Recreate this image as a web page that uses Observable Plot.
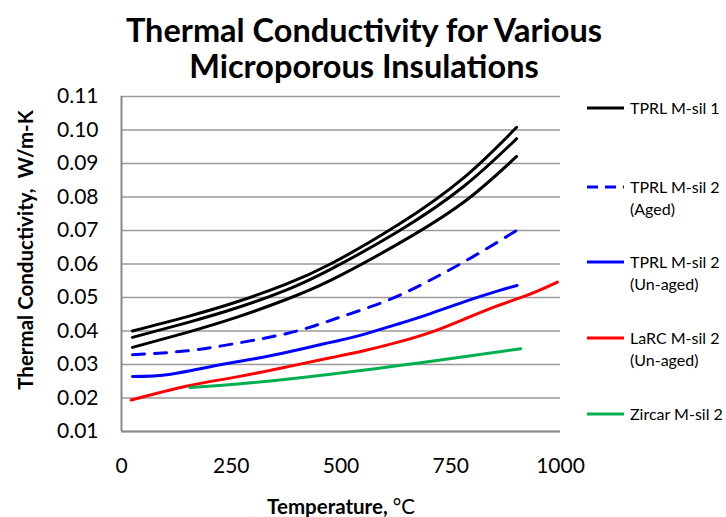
<!DOCTYPE html>
<html><head><meta charset="utf-8">
<script src="https://cdn.jsdelivr.net/npm/d3@7"></script>
<script src="https://cdn.jsdelivr.net/npm/@observablehq/plot@0.6"></script>
<style>
body{margin:0;background:#fff;font-family:Lato,"Open Sans",sans-serif;}
#wrap{position:relative;width:726px;height:517px;overflow:hidden;}
#chart{position:absolute;left:0;top:0;}
#title{position:absolute;left:0;top:12px;width:728px;text-align:center;font-weight:bold;font-size:32.5px;line-height:36px;color:#000;}
#ytitle{position:absolute;left:25px;top:250px;transform:translate(-50%,-50%) rotate(-90deg);white-space:nowrap;font-weight:bold;font-size:20.5px;color:#000;}
#xtitle{position:absolute;left:341px;top:506px;transform:translate(-50%,-50%);white-space:nowrap;font-weight:bold;font-size:20.5px;color:#000;}
#xtitle span{font-weight:normal;}
.lg{position:absolute;left:587px;font-size:16px;line-height:22px;color:#000;}
.lg svg{position:absolute;left:0;top:9px;}
.lg div{position:absolute;left:43px;top:0;white-space:nowrap;}
</style></head><body>
<div id="wrap">
<div id="chart"></div>
<div id="title">Thermal Conductivity for Various<br>Microporous Insulations</div>
<div id="ytitle">Thermal Conductivity,&nbsp; W/m-K</div>
<div id="xtitle">Temperature, <span>°C</span></div>
<div id="legend"></div>
</div>
<script>
// Temperatures (°C) and thermal conductivity (W/m-K)
const tprl1Temps = [25, 150, 265, 375, 476, 630, 780, 900];
const tprl1Upper = [0.0400, 0.0443, 0.0488, 0.0540, 0.0600, 0.0717, 0.0858, 0.1008];
const tprl1Middle = [0.0381, 0.0425, 0.0470, 0.0522, 0.0584, 0.0697, 0.0832, 0.0974];
const tprl1Lower = [0.0351, 0.0396, 0.0442, 0.0494, 0.0551, 0.0660, 0.0785, 0.0921];

const agedTemps = [25, 150, 265, 375, 450, 506, 607, 705, 801, 900];
const agedValues = [0.0329, 0.0341, 0.0364, 0.0392, 0.0420, 0.0445, 0.0492, 0.0553, 0.0622, 0.0700];

const unagedTemps = [25, 112, 225, 339, 476, 552, 628, 704, 780, 856, 901];
const unagedValues = [0.0264, 0.0271, 0.0299, 0.0326, 0.0366, 0.0390, 0.0420, 0.0452, 0.0487, 0.0519, 0.0536];

const larcTemps = [22, 150, 263, 377, 476, 552, 628, 704, 780, 856, 932, 993];
const larcValues = [0.0194, 0.0236, 0.0263, 0.0293, 0.0320, 0.0341, 0.0366, 0.0396, 0.0435, 0.0475, 0.0511, 0.0546];

const zircarTemps = [156, 301, 476, 628, 780, 909];
const zircarValues = [0.0231, 0.0246, 0.0271, 0.0296, 0.0323, 0.0347];

const xTicks = [0, 250, 500, 750, 1000];
const yTicks = [0.01, 0.02, 0.03, 0.04, 0.05, 0.06, 0.07, 0.08, 0.09, 0.10, 0.11];

const legendLabels = ["TPRL M-sil 1", "TPRL M-sil 2<br>(Aged)", "TPRL M-sil 2<br>(Un-aged)", "LaRC M-sil 2<br>(Un-aged)", "Zircar M-sil 2"];
const legendColors = ["#000000", "#0000ff", "#0000ff", "#ff0000", "#00b050"];
const legendDashes = [null, "11 7", null, null, null];
const legendY = [108, 187, 262, 338, 414];

const series = [
  {t: tprl1Temps, v: tprl1Upper, color: "#000000", dash: null},
  {t: tprl1Temps, v: tprl1Middle, color: "#000000", dash: null},
  {t: tprl1Temps, v: tprl1Lower, color: "#000000", dash: null},
  {t: agedTemps, v: agedValues, color: "#0000ff", dash: "12 10"},
  {t: unagedTemps, v: unagedValues, color: "#0000ff", dash: null},
  {t: larcTemps, v: larcValues, color: "#ff0000", dash: null},
  {t: zircarTemps, v: zircarValues, color: "#00b050", dash: null}
];

const lineMarks = series.map(s => Plot.line(s.t.map((t, i) => ({t, v: s.v[i]})), {
  x: "t", y: "v", stroke: s.color, strokeWidth: 3, curve: "natural",
  strokeDasharray: s.dash ?? undefined
}));

const plot = Plot.plot({
  width: 726, height: 517,
  marginLeft: 121, marginRight: 166, marginTop: 96, marginBottom: 86,
  style: {fontFamily: "Lato, 'Open Sans', sans-serif", fontSize: "21px", color: "#000", background: "transparent"},
  x: {domain: [0, 1000]},
  y: {domain: [0.01, 0.11]},
  marks: [
    Plot.gridY(yTicks, {stroke: "#9a9a9a", strokeOpacity: 1, strokeWidth: 1.5}),
    Plot.ruleY([0.01], {stroke: "#8a8a8a", strokeWidth: 2}),
    Plot.ruleX([0], {stroke: "#8a8a8a", strokeWidth: 2}),
    Plot.axisY(yTicks, {tickSize: 0, tickPadding: 23, tickFormat: d3.format(".2f"), label: null, fill: "#000"}),
    Plot.axisX(xTicks, {tickSize: 0, tickPadding: 27, tickFormat: d => String(d), label: null, fill: "#000"}),
    ...lineMarks
  ]
});
document.getElementById("chart").appendChild(plot);

const legend = document.getElementById("legend");
legendLabels.forEach((lab, i) => {
  const el = document.createElement("div");
  el.className = "lg";
  el.style.top = (legendY[i] - 11) + "px";
  el.innerHTML = `<svg width="38" height="4"><line x1="0" x2="37" y1="2" y2="2" stroke="${legendColors[i]}" stroke-width="3" ${legendDashes[i] ? `stroke-dasharray="${legendDashes[i]}"` : ""}/></svg><div>${lab}</div>`;
  legend.appendChild(el);
});
</script>
</body></html>
